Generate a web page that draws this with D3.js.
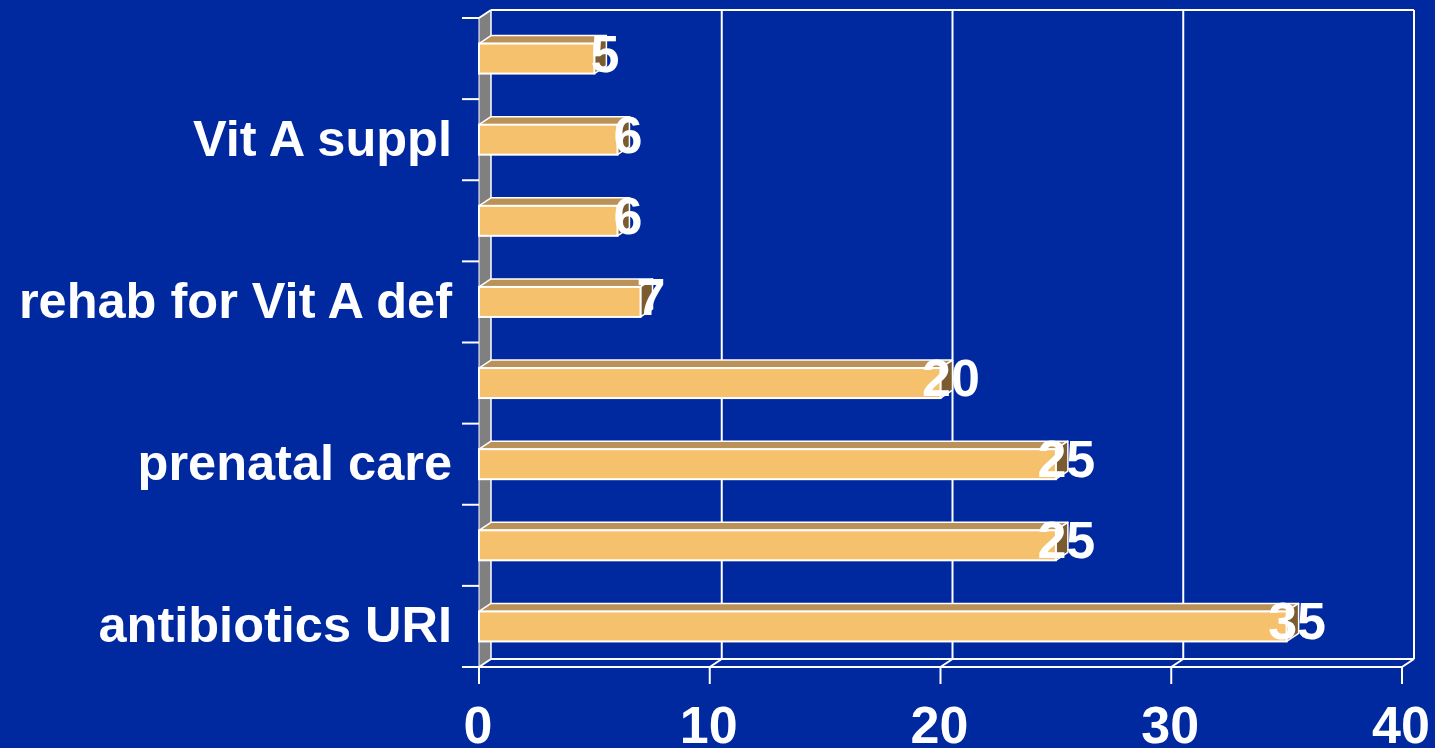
<!DOCTYPE html>
<html>
<head>
<meta charset="utf-8">
<script src="https://cdn.jsdelivr.net/npm/d3@7"></script>
<style>
  html, body { margin: 0; padding: 0; background: #0029a0; }
  svg { display: block; }
  text { font-family: "Liberation Sans", Arial, sans-serif; font-weight: bold; fill: #ffffff; }
</style>
</head>
<body>
<svg id="chart" width="1435" height="748"></svg>
<script>
// Categories top to bottom (only every other one carries a label)
const categories = ["", "Vit A suppl", "", "rehab for Vit A def", "", "prenatal care", "", "antibiotics URI"];
const values = [5, 6, 6, 7, 20, 25, 25, 35];
const xTicks = [0, 10, 20, 30, 40];

const W = 1435, H = 748;
const depth = { dx: 12, dy: -8 };   // 3D offset of the back wall
const barDepth = { dx: 12, dy: -8 };

const colors = {
  bg: "#0029a0",
  wall: "#808080",
  front: "#f5c16d",
  top: "#ba9257",
  side: "#7b5c31",
  line: "#ffffff"
};

const svg = d3.select("#chart");
svg.append("rect").attr("width", W).attr("height", H).attr("fill", colors.bg);

const x = d3.scaleLinear().domain([0, 40]).range([479, 1402]);
const y = d3.scaleBand().domain(d3.range(categories.length)).range([18, 667]);
const y0 = y.range()[0], y1 = y.range()[1];
const bandEdges = d3.range(categories.length + 1).map(i => y0 + i * y.step());

const g = svg.append("g");

// Left side wall
g.append("path")
  .attr("d", `M${x(0)},${y0} L${x(0) + depth.dx},${y0 + depth.dy} L${x(0) + depth.dx},${y1 + depth.dy} L${x(0)},${y1} Z`)
  .attr("fill", colors.wall);

// Back wall: top edge, right edge and vertical gridlines
g.append("line")
  .attr("x1", x(0) + depth.dx).attr("x2", x(40) + depth.dx)
  .attr("y1", y0 + depth.dy).attr("y2", y0 + depth.dy)
  .attr("stroke", colors.line).attr("stroke-width", 2);
g.append("line")
  .attr("x1", x(0)).attr("y1", y0)
  .attr("x2", x(0) + depth.dx).attr("y2", y0 + depth.dy)
  .attr("stroke", colors.line).attr("stroke-width", 2);
g.selectAll("line.grid").data(xTicks).join("line")
  .attr("class", "grid")
  .attr("x1", d => x(d) + depth.dx).attr("x2", d => x(d) + depth.dx)
  .attr("y1", y0 + depth.dy).attr("y2", y1 + depth.dy)
  .attr("stroke", colors.line).attr("stroke-width", d => d === 0 ? 1.5 : 2);

// Floor: back edge, front edge and diagonals at each tick
g.append("line")
  .attr("x1", x(0) + depth.dx).attr("x2", x(40) + depth.dx)
  .attr("y1", y1 + depth.dy).attr("y2", y1 + depth.dy)
  .attr("stroke", colors.line).attr("stroke-width", 2);
g.append("line")
  .attr("x1", x(0)).attr("x2", x(40))
  .attr("y1", y1).attr("y2", y1)
  .attr("stroke", colors.line).attr("stroke-width", 2);
g.selectAll("line.floor").data(xTicks).join("line")
  .attr("class", "floor")
  .attr("x1", d => x(d)).attr("y1", y1)
  .attr("x2", d => x(d) + depth.dx).attr("y2", y1 + depth.dy)
  .attr("stroke", colors.line).attr("stroke-width", 2);

// Front axis line and tick marks
g.append("line")
  .attr("x1", x(0)).attr("x2", x(0))
  .attr("y1", y0).attr("y2", y1)
  .attr("stroke", colors.line).attr("stroke-width", 1);
g.selectAll("line.xtick").data(xTicks).join("line")
  .attr("class", "xtick")
  .attr("x1", d => x(d)).attr("x2", d => x(d))
  .attr("y1", y1).attr("y2", y1 + 17)
  .attr("stroke", colors.line).attr("stroke-width", 2);
g.selectAll("line.ytick").data(bandEdges).join("line")
  .attr("class", "ytick")
  .attr("x1", x(0) - 17).attr("x2", x(0))
  .attr("y1", d => d).attr("y2", d => d)
  .attr("stroke", colors.line).attr("stroke-width", 2);

// Bars
const barH = 30;
const bars = g.selectAll("g.bar").data(values).join("g").attr("class", "bar");
const faceTop = (d, i) => y(i) + y.bandwidth() / 2 - barH / 2;

bars.append("path")   // top face
  .attr("d", (d, i) => {
    const t = faceTop(d, i);
    return `M${x(0)},${t} L${x(0) + barDepth.dx},${t + barDepth.dy} L${x(d) + barDepth.dx},${t + barDepth.dy} L${x(d)},${t} Z`;
  })
  .attr("fill", colors.top).attr("stroke", colors.line).attr("stroke-width", 1.5).attr("stroke-linejoin", "round");
bars.append("path")   // side face
  .attr("d", (d, i) => {
    const t = faceTop(d, i);
    return `M${x(d)},${t} L${x(d) + barDepth.dx},${t + barDepth.dy} L${x(d) + barDepth.dx},${t + barH + barDepth.dy} L${x(d)},${t + barH} Z`;
  })
  .attr("fill", colors.side).attr("stroke", colors.line).attr("stroke-width", 1.5).attr("stroke-linejoin", "round");
bars.append("rect")   // front face
  .attr("x", x(0))
  .attr("y", (d, i) => faceTop(d, i))
  .attr("width", d => x(d) - x(0))
  .attr("height", barH)
  .attr("fill", colors.front).attr("stroke", colors.line).attr("stroke-width", 2);

// Value labels
g.selectAll("text.value").data(values).join("text")
  .attr("class", "value")
  .attr("x", d => x(d) + 10.5)
  .attr("y", (d, i) => faceTop(d, i) + (barH + barDepth.dy) / 2 + 17)
  .attr("text-anchor", "middle")
  .attr("font-size", 52)
  .text(d => d);

// Category labels
g.selectAll("text.cat").data(categories).join("text")
  .attr("class", "cat")
  .attr("x", 452)
  .attr("y", (d, i) => y(i) + y.bandwidth() / 2 + 16)
  .attr("text-anchor", "end")
  .attr("font-size", 50.5)
  .text(d => d);

// Value axis labels
g.selectAll("text.xlab").data(xTicks).join("text")
  .attr("class", "xlab")
  .attr("x", d => x(d) - 1)
  .attr("y", 743)
  .attr("text-anchor", "middle")
  .attr("font-size", 52)
  .text(d => d);
</script>
</body>
</html>
